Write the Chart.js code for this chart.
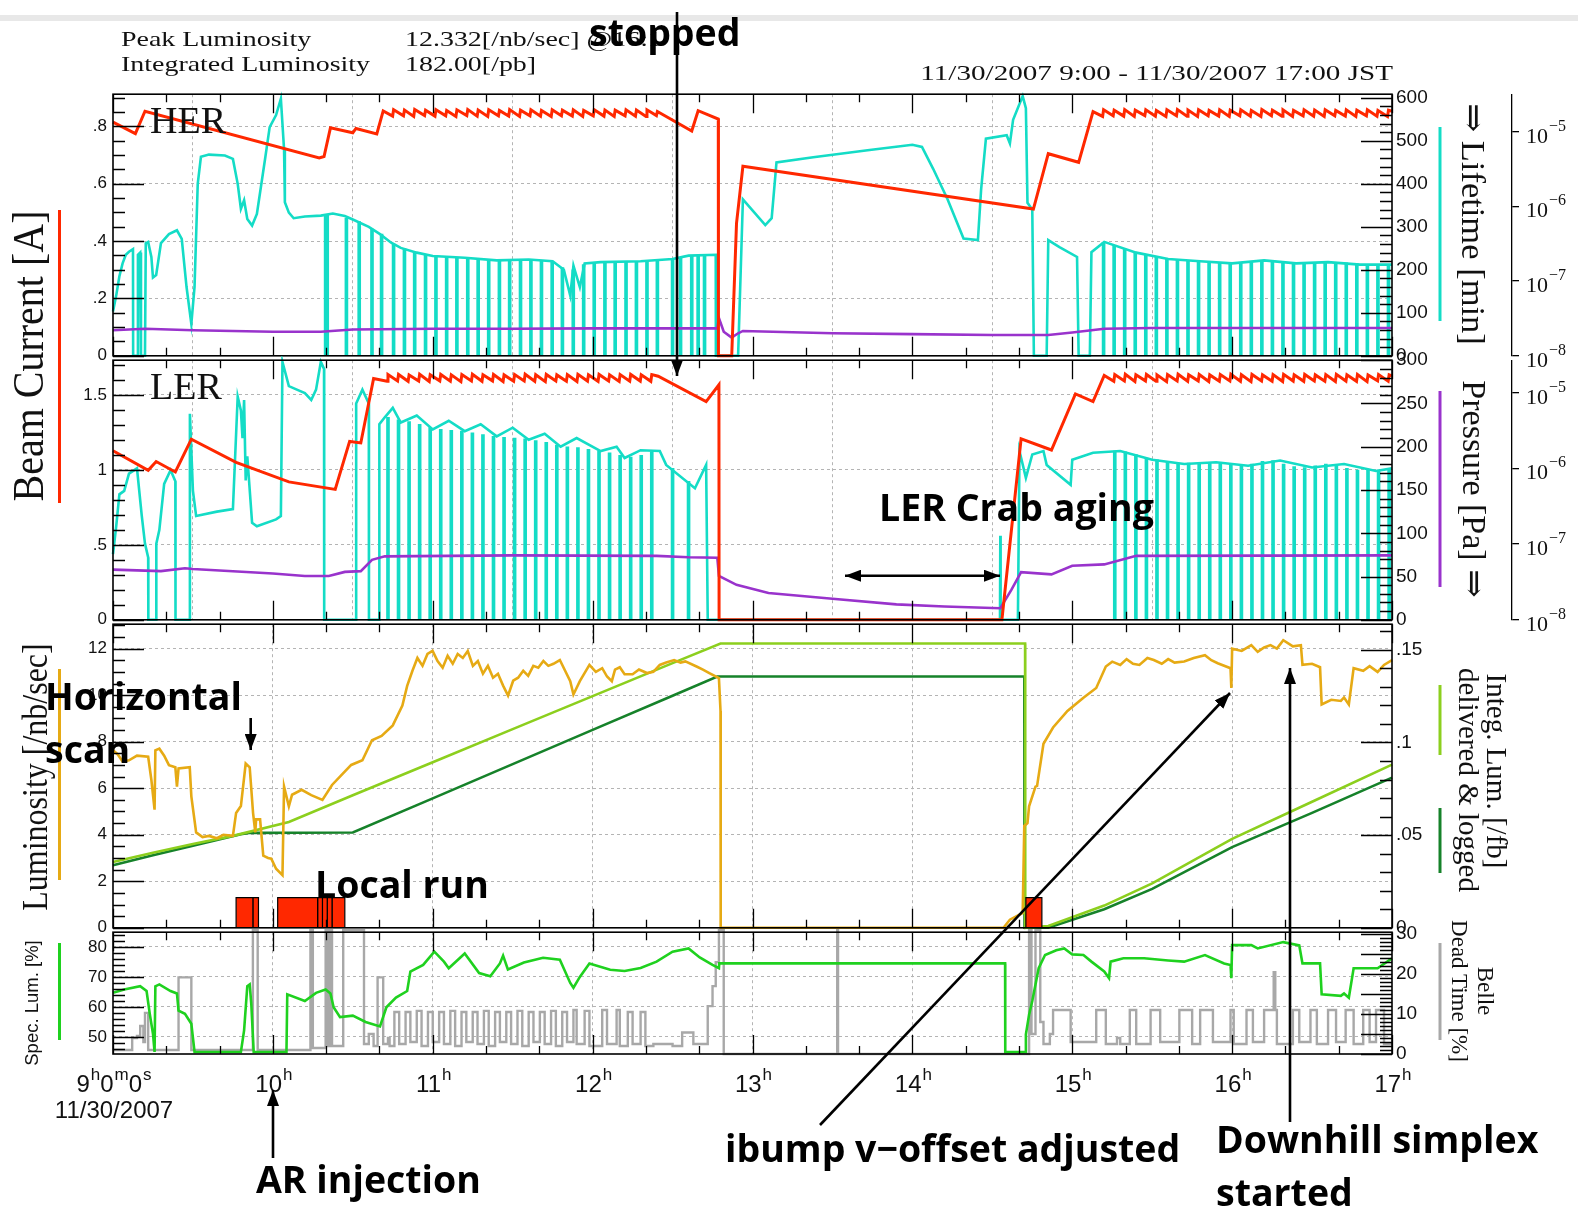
<!DOCTYPE html>
<html>
<head>
<meta charset="utf-8">
<title>KEKB operation summary 11/30/2007</title>
<script src="https://cdn.jsdelivr.net/npm/chart.js@4.4.1/dist/chart.umd.min.js"></script>
<style>
  html, body { margin: 0; padding: 0; background: #fff; }
  body { width: 1578px; height: 1210px; position: relative; overflow: hidden; }
  canvas { position: absolute; left: 0; }
  #notes { position: absolute; left: 0; top: 0; }
</style>
</head>
<body>
<canvas id="cHer" width="1578" height="294" style="top:78px"></canvas>
<canvas id="cLer" width="1578" height="292" style="top:344px"></canvas>
<canvas id="cLum" width="1578" height="336" style="top:608px"></canvas>
<canvas id="cSpec" width="1578" height="204" style="top:916px"></canvas>

<svg id="notes" width="1578" height="1210" xmlns="http://www.w3.org/2000/svg">
  <defs>
    <marker id="head" viewBox="0 0 16 12" refX="16" refY="6" markerWidth="16" markerHeight="12"
            markerUnits="userSpaceOnUse" orient="auto-start-reverse">
      <path d="M0,0 L16,6 L0,12 z" fill="#000"/>
    </marker>
  </defs>
  <rect x="0" y="15" width="1578" height="6" fill="#e8e8e8"/>

  <!-- header -->
  <g font-family="'Liberation Serif','DejaVu Serif',serif" fill="#111" font-size="21.5">
    <text transform="translate(121,46) scale(1.3,1)">Peak Luminosity</text>
    <text transform="translate(121,71) scale(1.3,1)">Integrated Luminosity</text>
    <text transform="translate(405,46) scale(1.3,1)">12.332[/nb/sec] @16:1</text>
    <text transform="translate(405,71) scale(1.3,1)">182.00[/pb]</text>
    <text transform="translate(1393,80) scale(1.355,1)" text-anchor="end">11/30/2007 9:00 - 11/30/2007 17:00 JST</text>
  </g>

  <!-- panel names -->
  <g font-family="'Liberation Serif','DejaVu Serif',serif" fill="#111" font-size="38">
    <text x="150" y="133">HER</text>
    <text x="150" y="399">LER</text>
  </g>

  <!-- axis titles, left -->
  <g font-family="'Liberation Serif','DejaVu Serif',serif" fill="#111" text-anchor="middle" dominant-baseline="central">
    <text font-size="40" transform="translate(28,356) rotate(-90) scale(1,1.1)">Beam Current [A]</text>
    <text font-size="32" transform="translate(35,777) rotate(-90) scale(1,1.1)">Luminosity [/nb/sec]</text>
  </g>
  <text font-family="'Liberation Sans','DejaVu Sans',sans-serif" font-size="18.5" fill="#111" text-anchor="middle"
        dominant-baseline="central" transform="translate(31,1003) rotate(-90)">Spec. Lum. [%]</text>
  <line x1="59.5" y1="210" x2="59.5" y2="503" stroke="#ff2800" stroke-width="3"/>
  <line x1="59.5" y1="669" x2="59.5" y2="880" stroke="#e6aa14" stroke-width="3"/>
  <line x1="59.5" y1="943" x2="59.5" y2="1040" stroke="#1fd11f" stroke-width="3"/>

  <!-- axis titles, right -->
  <g font-family="'Liberation Serif','DejaVu Serif',serif" fill="#111" text-anchor="middle" dominant-baseline="central">
    <text font-size="34.5" transform="translate(1474,224) rotate(90)">⇒ Lifetime [min]</text>
    <text font-size="34" transform="translate(1474,489) rotate(90)">Pressure [Pa] ⇒</text>
    <text font-size="29" transform="translate(1497,771) rotate(90)">Integ. Lum. [/fb]</text>
    <text font-size="29" transform="translate(1469,780) rotate(90)">delivered &amp; logged</text>
    <text font-size="23" transform="translate(1485,991) rotate(90)">Belle</text>
    <text font-size="23" transform="translate(1459,991) rotate(90)">Dead Time [%]</text>
  </g>
  <line x1="1440" y1="127" x2="1440" y2="321" stroke="#14dcc6" stroke-width="3"/>
  <line x1="1440" y1="391" x2="1440" y2="587" stroke="#9933cc" stroke-width="3"/>
  <line x1="1440" y1="685" x2="1440" y2="755" stroke="#8ccf1e" stroke-width="3"/>
  <line x1="1440" y1="808" x2="1440" y2="873" stroke="#16822a" stroke-width="3"/>
  <line x1="1440" y1="943" x2="1440" y2="1040" stroke="#a8a8a8" stroke-width="3"/>

  <!-- operator notes -->
  <g stroke="#000" stroke-width="2.6" fill="none">
    <line x1="677" y1="12" x2="677" y2="376" marker-end="url(#head)"/>
    <line x1="250.7" y1="718" x2="250.7" y2="750" marker-end="url(#head)"/>
    <line x1="845" y1="575.7" x2="1000" y2="575.7" marker-start="url(#head)" marker-end="url(#head)"/>
    <line x1="273" y1="1158" x2="273" y2="1090" marker-end="url(#head)"/>
    <line x1="820" y1="1125" x2="1230" y2="693" marker-end="url(#head)"/>
    <line x1="1290" y1="1122" x2="1290" y2="668" marker-end="url(#head)"/>
  </g>
  <g font-family="'Open Sans','DejaVu Sans',sans-serif" font-weight="700" font-size="37.5" fill="#000">
    <text x="589" y="46">stopped</text>
    <text x="879" y="521">LER Crab aging</text>
    <text x="45" y="710">Horizontal</text>
    <text x="45" y="763">scan</text>
    <text x="315" y="898">Local run</text>
    <text x="256" y="1193">AR injection</text>
    <text x="725" y="1162">ibump v−offset adjusted</text>
    <text x="1216" y="1153">Downhill simplex</text>
    <text x="1216" y="1206">started</text>
  </g>
</svg>

<script>
// ---------------------------------------------------------------------------
// Time axis (hours, JST) and its labels: [number, unit superscript] pieces
// ---------------------------------------------------------------------------
const hourTicks = [9, 10, 11, 12, 13, 14, 15, 16, 17];
const firstHourLabel = [['9', 'h'], ['0', 'm'], ['0', 's']];
const hourUnit = 'h';
const dateLabel = '11/30/2007';

// ---------------------------------------------------------------------------
// HER ring: beam current [A], lifetime [min], pressure [Pa]
// ---------------------------------------------------------------------------
const herCurrent = [
  [9.00,0.815],[9.14,0.775],[9.20,0.853],[10.29,0.690],[10.32,0.695],[10.36,0.795],[10.50,0.778],
  [10.52,0.793],[10.65,0.774],[10.69,0.854],
  [10.749,0.836],[10.755,0.858],[10.817,0.837],[10.823,0.857],[10.881,0.835],[10.887,0.859],
  [10.949,0.838],[10.955,0.857],[11.014,0.836],[11.02,0.858],[11.081,0.837],[11.087,0.856],
  [11.145,0.835],[11.151,0.858],[11.213,0.838],[11.219,0.859],[11.278,0.836],[11.284,0.857],
  [11.344,0.835],[11.35,0.858],[11.411,0.837],[11.417,0.856],[11.475,0.836],[11.481,0.859],
  [11.543,0.835],[11.549,0.857],[11.608,0.837],[11.614,0.858],[11.674,0.836],[11.68,0.856],
  [11.741,0.835],[11.747,0.858],[11.805,0.837],[11.811,0.857],[11.873,0.836],[11.879,0.858],
  [11.938,0.835],[11.944,0.856],[12.004,0.837],[12.01,0.858],[12.071,0.836],[12.077,0.857],
  [12.135,0.835],[12.141,0.857],[12.203,0.837],[12.209,0.858],[12.268,0.836],[12.274,0.857],
  [12.334,0.835],[12.34,0.858],[12.399,0.838],[12.405,0.852],
  [12.62,0.784],[12.66,0.855],[12.786,0.826],[12.787,0.0],[12.87,0.0],[12.90,0.462],[12.94,0.661],
  [14.757,0.512],[14.85,0.705],[15.04,0.675],[15.13,0.852],
  [15.19,0.835],[15.196,0.858],[15.256,0.837],[15.262,0.857],[15.322,0.836],[15.328,0.859],
  [15.388,0.835],[15.394,0.857],[15.454,0.838],[15.46,0.858],[15.52,0.836],[15.526,0.856],
  [15.586,0.835],[15.592,0.858],[15.652,0.837],[15.658,0.859],[15.718,0.836],[15.724,0.857],
  [15.784,0.835],[15.79,0.858],[15.85,0.837],[15.856,0.856],[15.916,0.836],[15.922,0.858],
  [15.982,0.835],[15.988,0.857],[16.048,0.837],[16.054,0.858],[16.114,0.836],[16.12,0.856],
  [16.18,0.835],[16.186,0.859],[16.246,0.837],[16.252,0.857],[16.312,0.836],[16.318,0.858],
  [16.378,0.835],[16.384,0.856],[16.444,0.837],[16.45,0.858],[16.51,0.836],[16.516,0.857],
  [16.576,0.835],[16.582,0.858],[16.642,0.837],[16.648,0.856],[16.708,0.836],[16.714,0.858],
  [16.774,0.835],[16.78,0.857],[16.84,0.837],[16.846,0.858],[16.906,0.836],[16.912,0.856],
  [16.972,0.835],[16.978,0.857],[17.00,0.853]
];

const herLifetime = [
  [9.00,103],[9.02,140],[9.04,185],[9.06,215],[9.08,235],[9.10,242],[9.125,248],[9.126,0],[9.155,0],
  [9.156,235],[9.17,240],[9.175,0],[9.20,0],[9.205,262],[9.22,265],[9.24,230],[9.25,182],[9.27,188],
  [9.30,262],[9.35,283],[9.40,292],[9.43,272],[9.46,160],[9.49,74],[9.51,160],[9.53,400],[9.55,463],
  [9.60,468],[9.70,466],[9.75,458],[9.78,400],[9.80,342],[9.82,362],[9.84,318],[9.87,303],[9.90,330],
  [9.95,455],[9.98,532],[10.02,560],[10.05,598],[10.07,480],[10.075,357],[10.10,333],[10.13,320],
  [10.20,324],[10.30,326],[10.375,331],[10.45,325],[10.50,317],[10.60,300],[10.67,283],[10.74,263],
  [10.80,251],[10.90,240],[11.00,232],[11.20,228],[11.40,222],[11.60,224],[11.75,220],[11.82,200],
  [11.86,140],[11.88,210],[11.92,160],[11.95,215],[12.05,218],[12.30,220],[12.50,225],[12.60,233],
  [12.77,235],[12.771,0],[12.91,0],[12.94,364],[13.08,304],[13.12,320],[13.15,450],[13.38,462],
  [13.72,478],[14.00,491],[14.06,486],[14.13,435],[14.22,364],[14.32,273],[14.41,269],[14.43,387],
  [14.46,505],[14.59,513],[14.61,494],[14.63,549],[14.69,604],[14.71,576],[14.72,356],[14.75,340],
  [14.76,0],[14.84,0],[14.85,269],[14.92,253],[15.03,230],[15.04,0],[15.11,0],[15.12,241],[15.20,265],
  [15.40,240],[15.60,225],[15.80,220],[16.00,215],[16.20,222],[16.40,215],[16.60,218],[16.80,212],
  [17.00,212]
];

// the lifetime readout falls to zero at each injection: [time, reading before the drop]
const herLifetimeDrops = [
  [10.33,326],[10.335,326],[10.34,327],[10.46,320],[10.54,312],[10.62,295],[10.68,283],
  [10.755,260],[10.823,249],[10.887,242],[10.955,236],[11.02,232],[11.087,231],[11.151,229],
  [11.219,228],[11.284,226],[11.35,224],[11.417,222],[11.481,223],[11.549,224],[11.614,224],
  [11.68,222],[11.747,220],[11.811,205],[11.879,200],[11.944,212],[12.01,217],[12.077,218],
  [12.141,219],[12.209,219],[12.274,220],[12.34,221],[12.405,223],[12.50,225],[12.55,228],
  [12.62,233],[12.66,234],[12.70,235],
  [15.196,264],[15.262,257],[15.328,248],[15.394,241],[15.46,236],[15.526,231],[15.592,226],
  [15.658,223],[15.724,221],[15.79,220],[15.856,218],[15.922,217],[15.988,215],[16.054,216],
  [16.12,218],[16.186,221],[16.252,220],[16.318,217],[16.384,215],[16.45,216],[16.516,217],
  [16.582,218],[16.648,217],[16.714,216],[16.78,214],[16.846,212],[16.912,212],[16.978,212]
];

const herPressure = [
  [9.00,2.2e-8],[9.20,2.3e-8],[9.50,2.2e-8],[10.00,2.1e-8],[10.30,2.1e-8],[10.50,2.25e-8],[11.00,2.3e-8],
  [11.50,2.3e-8],[12.00,2.33e-8],[12.78,2.33e-8],[12.79,3.2e-8],[12.82,2.1e-8],[12.87,1.75e-8],
  [12.91,2.0e-8],[12.94,2.15e-8],[13.50,2.0e-8],[14.00,1.95e-8],[14.50,1.9e-8],[14.85,1.9e-8],
  [15.00,2.05e-8],[15.20,2.3e-8],[15.50,2.35e-8],[16.00,2.35e-8],[17.00,2.35e-8]
];

// ---------------------------------------------------------------------------
// LER ring
// ---------------------------------------------------------------------------
const lerCurrent = [
  [9.00,1.128],[9.22,0.997],[9.27,1.056],[9.39,0.986],[9.49,1.205],[9.77,1.050],[10.10,0.920],
  [10.39,0.870],[10.48,1.190],[10.55,1.180],[10.63,1.610],
  [10.714,1.592],[10.72,1.636],[10.78,1.594],[10.786,1.637],[10.846,1.591],[10.852,1.634],
  [10.912,1.593],[10.918,1.638],[10.978,1.590],[10.984,1.635],[11.044,1.594],[11.05,1.637],
  [11.11,1.592],[11.116,1.634],[11.176,1.589],[11.182,1.636],[11.242,1.593],[11.248,1.638],
  [11.308,1.591],[11.314,1.635],[11.374,1.594],[11.38,1.637],[11.44,1.590],[11.446,1.634],
  [11.506,1.592],[11.512,1.636],[11.572,1.593],[11.578,1.638],[11.638,1.591],[11.644,1.635],
  [11.704,1.589],[11.71,1.637],[11.77,1.594],[11.776,1.634],[11.836,1.592],[11.842,1.636],
  [11.902,1.590],[11.908,1.638],[11.968,1.593],[11.974,1.635],[12.034,1.591],[12.04,1.637],
  [12.10,1.594],[12.106,1.634],[12.166,1.590],[12.172,1.636],[12.232,1.592],[12.238,1.637],
  [12.298,1.593],[12.304,1.635],[12.364,1.591],[12.37,1.636],
  [12.41,1.625],[12.71,1.456],[12.79,1.568],[12.791,0],[14.56,0],
  [14.68,1.207],[14.87,1.133],[15.02,1.507],[15.13,1.456],[15.20,1.630],
  [15.26,1.591],[15.266,1.636],[15.326,1.593],[15.332,1.638],[15.392,1.590],[15.398,1.635],
  [15.458,1.594],[15.464,1.637],[15.524,1.592],[15.53,1.634],[15.59,1.589],[15.596,1.636],
  [15.656,1.593],[15.662,1.638],[15.722,1.591],[15.728,1.635],[15.788,1.594],[15.794,1.637],
  [15.854,1.590],[15.86,1.634],[15.92,1.592],[15.926,1.636],[15.986,1.593],[15.992,1.638],
  [16.052,1.591],[16.058,1.635],[16.118,1.589],[16.124,1.637],[16.184,1.594],[16.19,1.634],
  [16.25,1.592],[16.256,1.636],[16.316,1.590],[16.322,1.638],[16.382,1.593],[16.388,1.635],
  [16.448,1.591],[16.454,1.637],[16.514,1.594],[16.52,1.634],[16.58,1.592],[16.586,1.636],
  [16.646,1.590],[16.652,1.638],[16.712,1.593],[16.718,1.635],[16.778,1.591],[16.784,1.637],
  [16.844,1.589],[16.85,1.634],[16.91,1.594],[16.916,1.636],[16.976,1.592],[16.982,1.635],
  [17.00,1.628]
];

const lerLifetime = [
  [9.00,76],[9.02,108],[9.04,145],[9.07,149],[9.10,169],[9.15,175],[9.18,120],[9.20,88],[9.22,72],
  [9.221,0],[9.27,0],[9.271,88],[9.29,104],[9.32,157],[9.36,173],[9.39,160],[9.391,0],[9.48,0],
  [9.481,238],[9.50,149],[9.52,120],[9.65,125],[9.75,128],[9.78,258],[9.80,242],[9.81,210],[9.82,254],
  [9.83,161],[9.84,189],[9.87,112],[9.90,108],[10.02,116],[10.05,120],[10.06,298],[10.10,270],
  [10.15,266],[10.20,262],[10.24,254],[10.27,266],[10.30,298],[10.32,290],[10.321,0],[10.52,0],
  [10.521,250],[10.56,266],[10.60,250],[10.601,0],[10.665,0],[10.666,226],[10.70,234],[10.75,245],
  [10.80,228],[10.90,236],[11.00,220],[11.10,230],[11.20,218],[11.30,226],[11.40,212],[11.50,222],
  [11.60,208],[11.70,215],[11.80,200],[11.90,210],[12.05,195],[12.15,200],[12.20,187],[12.30,196],
  [12.42,195],[12.46,179],[12.64,152],[12.71,179],[12.72,0],[14.548,0],[14.55,97],[14.552,0],[14.66,0],
  [14.67,195],[14.71,164],[14.75,191],[14.82,195],[14.84,179],[14.99,156],[15.00,185],[15.13,193],
  [15.30,195],[15.50,185],[15.70,180],[15.90,182],[16.10,178],[16.30,184],[16.50,176],[16.70,180],
  [16.90,172],[17.00,175]
];

const lerLifetimeDrops = [
  [10.72,234],[10.786,231],[10.852,229],[10.918,226],[10.984,222],[11.05,220],[11.116,219],
  [11.182,218],[11.248,216],[11.314,214],[11.38,212],[11.446,211],[11.512,210],[11.578,209],
  [11.644,207],[11.71,205],[11.776,202],[11.842,200],[11.908,199],[11.974,197],[12.04,195],
  [12.106,193],[12.172,190],[12.238,188],[12.304,190],[12.37,194],[12.50,175],[12.60,160],
  [15.266,195],[15.332,194],[15.398,191],[15.464,187],[15.53,185],[15.596,183],[15.662,180],
  [15.728,181],[15.794,182],[15.86,182],[15.926,181],[15.992,179],[16.058,178],[16.124,180],
  [16.19,183],[16.256,184],[16.322,180],[16.388,177],[16.454,176],[16.52,178],[16.586,180],
  [16.652,178],[16.718,175],[16.784,173],[16.85,174],[16.916,173],[16.982,175]
];

const lerPressure = [
  [9.00,4.6e-8],[9.30,4.4e-8],[9.45,4.8e-8],[9.50,4.7e-8],[10.00,4.1e-8],[10.20,3.8e-8],[10.35,3.8e-8],
  [10.45,4.3e-8],[10.55,4.4e-8],[10.62,6.2e-8],[10.70,6.9e-8],[11.50,7.1e-8],[12.40,7.0e-8],
  [12.60,6.7e-8],[12.78,6.6e-8],[12.79,3.8e-8],[12.90,2.9e-8],[13.10,2.26e-8],[13.50,1.9e-8],
  [13.90,1.6e-8],[14.20,1.5e-8],[14.55,1.42e-8],[14.62,2.5e-8],[14.68,4.27e-8],[14.87,3.98e-8],
  [15.00,5.17e-8],[15.20,5.4e-8],[15.40,7.0e-8],[17.00,7.1e-8]
];

const pressureTicks = [1e-8, 1e-7, 1e-6, 1e-5];
const pressureLabels = [['10', '−8'], ['10', '−7'], ['10', '−6'], ['10', '−5']];

// ---------------------------------------------------------------------------
// Luminosity [/nb/sec], integrated luminosity [/fb], Belle local runs
// ---------------------------------------------------------------------------
const luminosity = [
  [9.00,7.63],[9.03,7.45],[9.06,7.15],[9.10,7.20],[9.15,7.40],[9.22,7.35],[9.24,6.36],[9.26,5.08],
  [9.265,7.63],[9.29,7.70],[9.32,7.40],[9.35,6.99],[9.39,6.90],[9.40,6.07],[9.41,6.85],[9.48,6.90],
  [9.49,5.65],[9.52,4.10],[9.56,3.90],[9.60,3.95],[9.65,3.85],[9.69,4.00],[9.75,3.95],[9.77,4.94],
  [9.80,5.23],[9.83,7.06],[9.855,6.90],[9.876,4.94],[9.89,4.10],[9.895,4.66],[9.92,4.66],[9.94,3.10],
  [9.97,3.00],[9.99,2.97],[10.02,2.54],[10.06,2.26],[10.07,6.07],[10.10,5.22],[10.12,5.72],
  [10.18,5.93],[10.24,5.70],[10.31,5.50],[10.37,6.14],[10.43,6.57],[10.49,7.00],[10.56,7.20],
  [10.62,8.06],[10.68,8.25],[10.75,8.70],[10.81,9.55],[10.84,10.40],[10.873,11.05],[10.904,11.60],
  [10.936,11.26],[10.967,11.77],[10.999,11.90],[11.030,11.47],[11.062,11.18],[11.093,11.69],
  [11.125,11.35],[11.156,11.77],[11.188,11.60],[11.219,11.90],[11.251,11.26],[11.282,11.47],
  [11.314,10.92],[11.345,11.26],[11.377,10.75],[11.408,10.92],[11.440,10.41],[11.471,9.98],
  [11.503,10.62],[11.534,10.75],[11.566,11.05],[11.597,10.83],[11.629,11.26],[11.660,11.18],
  [11.692,11.47],[11.723,11.26],[11.755,11.35],[11.795,11.51],[11.86,10.60],[11.88,10.03],
  [11.92,10.60],[11.98,11.30],[12.02,11.00],[12.06,11.16],[12.09,10.80],[12.12,10.60],[12.14,11.10],
  [12.17,11.20],[12.20,10.90],[12.25,10.90],[12.29,11.10],[12.34,10.95],[12.38,11.00],[12.42,11.30],
  [12.46,11.40],[12.51,11.51],[12.55,11.40],[12.58,11.45],[12.65,11.23],[12.69,11.10],[12.73,10.95],
  [12.79,10.73],[12.80,9.32],[12.801,0],[14.57,0],[14.61,0.35],[14.69,0.64],[14.70,4.38],[14.72,4.50],
  [14.73,5.22],[14.77,6.07],[14.78,6.10],[14.82,7.91],[14.88,8.61],[14.97,9.32],[15.07,9.89],
  [15.15,10.31],[15.21,11.23],[15.25,11.44],[15.30,11.30],[15.34,11.55],[15.38,11.35],[15.42,11.30],
  [15.47,11.60],[15.51,11.51],[15.56,11.35],[15.60,11.55],[15.64,11.40],[15.70,11.45],[15.76,11.60],
  [15.83,11.72],[15.87,11.50],[15.91,11.37],[15.99,11.16],[15.995,10.31],[16.00,12.00],[16.06,11.90],
  [16.12,12.15],[16.16,11.86],[16.20,12.05],[16.24,12.15],[16.28,12.00],[16.32,12.36],[16.38,12.10],
  [16.43,12.15],[16.44,11.30],[16.50,11.35],[16.55,11.20],[16.56,9.60],[16.62,9.80],[16.68,9.75],
  [16.70,9.90],[16.73,9.60],[16.76,11.16],[16.82,11.05],[16.86,11.25],[16.91,11.00],[16.95,11.30],
  [17.00,11.51]
];

const intLumDelivered = [
  [9.00,0.0355],[9.25,0.0405],[9.50,0.0452],[9.75,0.0496],[10.10,0.0571],[10.50,0.0715],[11.00,0.0893],
  [11.50,0.1072],[12.00,0.1250],[12.50,0.1428],[12.80,0.1534],[14.705,0.1534],[14.706,0],[14.85,0.001],
  [15.20,0.012],[15.50,0.024],[16.00,0.048],[16.50,0.068],[17.00,0.088]
];

const intLumLogged = [
  [9.00,0.0337],[9.25,0.0392],[9.50,0.0443],[9.80,0.0505],[9.85,0.0512],[10.50,0.0514],[11.00,0.0698],
  [11.50,0.0883],[12.00,0.1068],[12.50,0.1252],[12.78,0.1356],[14.70,0.1356],[14.701,0.057],
  [14.702,0],[14.85,0],[15.20,0.010],[15.50,0.021],[16.00,0.0435],[16.50,0.062],[17.00,0.081]
];

// Belle local runs: [start, end] in hours, drawn up to runLevel on the luminosity scale
const localRuns = [
  [9.77,9.875],[9.875,9.91],[10.03,10.28],[10.28,10.31],[10.31,10.34],[10.34,10.37],[10.37,10.45],
  [14.71,14.81]
];
const runLevel = 1.3;

// ---------------------------------------------------------------------------
// Specific luminosity [%] and Belle dead time [%]
// ---------------------------------------------------------------------------
const specLum = [
  [9.00,64.7],[9.07,65.8],[9.17,66.9],[9.21,65.3],[9.23,57.7],[9.25,51.1],[9.26,45.0],[9.265,66.9],
  [9.29,67.5],[9.36,65.3],[9.40,64.5],[9.41,58.8],[9.45,57.7],[9.49,54.4],[9.51,45.0],[9.80,45.0],
  [9.82,52.2],[9.84,66.9],[9.855,67.5],[9.865,61.0],[9.88,45.0],[10.085,45.0],[10.09,64.2],[10.20,62.0],
  [10.27,64.7],[10.33,65.8],[10.36,64.5],[10.38,59.9],[10.42,56.6],[10.50,57.1],[10.58,55.0],
  [10.67,53.5],[10.71,59.9],[10.77,63.1],[10.84,65.3],[10.86,71.8],[10.94,74.0],[11.01,78.4],
  [11.07,75.1],[11.10,72.9],[11.20,77.8],[11.29,71.3],[11.36,70.2],[11.42,74.5],[11.44,77.1],
  [11.47,72.5],[11.57,74.8],[11.69,76.4],[11.795,75.7],[11.86,68.0],[11.88,66.4],[11.92,70.0],
  [11.98,74.5],[12.11,72.4],[12.20,72.0],[12.30,73.0],[12.40,75.1],[12.50,78.4],[12.60,79.5],
  [12.67,76.5],[12.75,74.0],[12.79,72.9],[12.792,74.5],[14.58,74.5],[14.581,45.0],[14.705,45.0],
  [14.71,50.9],[14.73,57.4],[14.75,62.0],[14.79,72.9],[14.83,77.3],[14.90,78.9],[14.95,79.5],
  [15.00,77.5],[15.07,77.3],[15.12,75.1],[15.20,71.8],[15.23,69.6],[15.24,75.1],[15.32,76.2],
  [15.45,76.2],[15.60,75.5],[15.70,75.1],[15.83,77.3],[15.95,74.5],[15.99,74.0],[15.995,69.6],
  [16.00,80.6],[16.12,80.6],[16.16,79.5],[16.32,81.6],[16.42,80.5],[16.44,74.5],[16.55,74.5],
  [16.56,64.2],[16.68,63.7],[16.70,64.5],[16.73,63.1],[16.76,72.9],[16.91,72.9],[17.00,76.2]
];

// step data: each entry is the value from that time on
const deadTime = [
  [9.00,1],[9.12,4],[9.15,4.5],[9.17,7],[9.19,3],[9.20,10.3],[9.22,1],[9.41,19.2],[9.49,1],[9.875,31],
  [9.905,1],[10.10,1],[10.235,31],[10.25,1.5],[10.33,31],[10.345,2],[10.355,31],[10.37,2],[10.44,31],
  [10.57,2.5],[10.60,5],[10.63,2],[10.655,19.2],[10.69,2.5],[10.72,4],[10.73,2],
  [10.76,10.5],[10.79,2.5],[10.83,10.5],[10.86,3],[10.90,10.8],[10.93,2],[10.97,10.5],[11.00,3],
  [11.04,10.5],[11.07,2.5],[11.11,10.8],[11.14,2],[11.18,10.5],[11.21,3],[11.25,10.5],[11.28,2.5],
  [11.32,10.8],[11.35,2],[11.39,10.5],[11.42,3],[11.46,10.5],[11.49,2.5],[11.53,10.8],[11.56,2],
  [11.60,10.5],[11.63,3],[11.67,10.5],[11.70,2.5],[11.74,10.8],[11.77,2],[11.81,10.5],[11.84,3],
  [11.88,11],[11.90,2.5],[11.95,10.8],[11.98,2],[12.06,11],[12.09,2.5],[12.15,11],[12.17,2],
  [12.22,10.5],[12.25,2.5],[12.30,10.5],[12.33,2],[12.38,2.5],[12.50,2],[12.56,5.4],[12.63,2.5],
  [12.72,12],[12.75,17],[12.77,23],[12.79,31],[12.82,0],[13.53,31],[13.535,0],[14.70,0],[14.73,31],
  [14.745,5],[14.77,31],[14.80,8],[14.82,2.5],[14.86,5],[14.88,11],[14.99,3],[15.15,11],[15.21,2.5],
  [15.28,4],[15.30,2.5],[15.36,11],[15.40,2.5],[15.49,11],[15.55,3],[15.67,11],[15.75,2.5],[15.80,11],
  [15.88,3],[15.99,11],[16.01,2.5],[16.09,11],[16.13,3],[16.20,11],[16.26,20.5],[16.27,11],[16.28,2.5],
  [16.38,11],[16.42,3],[16.49,11],[16.53,2.5],[16.60,11],[16.65,3],[16.71,11],[16.76,2.5],[16.82,11],
  [16.86,3],[16.90,11],[16.95,2.5],[17.00,2.5]
];

// ---------------------------------------------------------------------------
// Styling
// ---------------------------------------------------------------------------
const SANS = "'Liberation Sans', 'DejaVu Sans', sans-serif";
const SERIF = "'Liberation Serif', 'DejaVu Serif', serif";
const GRID = '#b4b4b4';
const COL = {
  current: '#ff2800', life: '#14dcc6', press: '#9933cc', lum: '#e6aa14',
  delivered: '#8ccf1e', logged: '#16822a', spec: '#1fd11f', dead: '#a8a8a8', run: '#ff2800'
};
const PAD = 14;
const LEFT_W = 113;
const RIGHT_W = 186;

Chart.defaults.color = '#111';
Chart.defaults.font.family = SANS;

const xy = pts => pts.map(([x, y]) => ({ x, y }));
const lineSet = (label, pts, color, axis, extra) => Object.assign({
  type: 'line', label, data: xy(pts), borderColor: color, backgroundColor: color,
  borderWidth: 2.6, pointRadius: 0, tension: 0, fill: false, yAxisID: axis, clip: 4
}, extra || {});
const dropSet = (label, pts, color, axis) => ({
  type: 'bar', label, data: pts.map(([x, top]) => ({ x, y: [0, top] })),
  backgroundColor: color, borderWidth: 0, barThickness: 3, grouped: false, yAxisID: axis
});

function timeAxis(labelSpace) {
  return {
    type: 'linear', position: 'bottom', min: 9, max: 17, offset: false,
    afterBuildTicks: s => { s.ticks = hourTicks.map(v => ({ value: v })); },
    afterFit: s => { s.height = labelSpace; },
    ticks: { display: false },
    grid: {
      drawTicks: false, lineWidth: 1,
      color: c => (c.tick && (c.tick.value === 9 || c.tick.value === 17)) ? 'rgba(0,0,0,0)' : GRID
    },
    border: { display: false, dash: [3, 3] }
  };
}

function leftAxis(min, max, majors, fmt) {
  return {
    type: 'linear', position: 'left', min, max,
    afterFit: s => { s.width = LEFT_W; },
    afterBuildTicks: s => { s.ticks = majors.map(v => ({ value: v })); },
    ticks: { padding: 6, color: '#111', font: { family: SANS, size: 17 }, callback: fmt },
    grid: {
      drawTicks: false, lineWidth: 1,
      color: c => (c.tick && (c.tick.value <= min + 1e-9 || c.tick.value >= max - 1e-9)) ? 'rgba(0,0,0,0)' : GRID
    },
    border: { display: false, dash: [3, 3] }
  };
}

function rightAxis(min, max, majors, fmt, width) {
  return {
    type: 'linear', position: 'right', min, max, weight: 0,
    afterFit: s => { s.width = width; },
    afterBuildTicks: s => { s.ticks = majors.map(v => ({ value: v })); },
    ticks: { padding: 4, color: '#111', font: { family: SANS, size: 19 }, callback: fmt },
    grid: { display: false, drawTicks: false },
    border: { display: false }
  };
}

function pressureAxis(max) {
  return {
    type: 'logarithmic', position: 'right', min: 1e-8, max, weight: 1,
    afterFit: s => { s.width = RIGHT_W - 120; },
    afterBuildTicks: s => { s.ticks = pressureTicks.map(v => ({ value: v })); },
    ticks: { display: false },
    grid: { display: true, drawOnChartArea: false, drawTicks: true, tickLength: 7, color: '#000', lineWidth: 1.3 },
    border: { display: true, color: '#000', width: 1.3 }
  };
}

const trim = v => (Math.abs(v) < 1 && v !== 0 ? String(v).replace(/^0/, '') : String(v));

// frame with inward tick marks on all four sides, plus labels with superscripts
const panelFrame = {
  id: 'panelFrame',
  afterDatasetsDraw(chart, args, o) {
    const { ctx, chartArea: a, scales } = chart;
    ctx.save();
    ctx.strokeStyle = '#000';
    ctx.lineWidth = 1.3;
    ctx.beginPath();
    const xs = scales.x;
    for (let m = 0; m <= 480; m += 20) {
      const px = Math.round(xs.getPixelForValue(9 + m / 60)) + 0.5;
      const len = m % 60 === 0 ? 19 : 8;
      ctx.moveTo(px, a.top); ctx.lineTo(px, a.top + len);
      ctx.moveTo(px, a.bottom); ctx.lineTo(px, a.bottom - len);
    }
    const side = (spec, x0, dir) => {
      if (!spec) return;
      const s = scales[spec.id];
      const i0 = Math.ceil(s.min / spec.minor - 1e-6);
      const i1 = Math.floor(s.max / spec.minor + 1e-6);
      for (let i = i0; i <= i1; i++) {
        const v = i * spec.minor;
        const major = Math.abs(v / spec.major - Math.round(v / spec.major)) < 1e-6;
        const py = Math.round(s.getPixelForValue(v)) + 0.5;
        ctx.moveTo(x0, py); ctx.lineTo(x0 + dir * (major ? 31 : 12), py);
      }
    };
    side(o.left, a.left, 1);
    side(o.right, a.right, -1);
    ctx.stroke();
    ctx.lineWidth = 1.6;
    ctx.strokeRect(a.left, a.top, a.right - a.left, a.bottom - a.top);
    ctx.restore();
  },
  afterDraw(chart, args, o) {
    const { ctx, chartArea: a, scales } = chart;
    ctx.save();
    ctx.fillStyle = '#111';
    ctx.textBaseline = 'alphabetic';
    if (o.pressure) {
      const s = scales[o.pressure];
      pressureTicks.forEach((v, i) => {
        const py = s.getPixelForValue(v);
        const [base, exp] = pressureLabels[i];
        let x = s.left + 14;
        ctx.font = `22px ${SERIF}`;
        ctx.fillText(base, x, py + 11);
        x += ctx.measureText(base).width + 1;
        ctx.font = `16px ${SERIF}`;
        ctx.fillText(exp, x, py - 1);
      });
    }
    if (o.timeLabels) {
      const big = `24px ${SANS}`, small = `17px ${SANS}`;
      const y = a.bottom + 38;
      hourTicks.forEach(h => {
        const parts = h === 9 ? firstHourLabel : [[String(h), hourUnit]];
        let w = 0;
        parts.forEach(([n, u]) => {
          ctx.font = big; w += ctx.measureText(n).width;
          ctx.font = small; w += ctx.measureText(u).width + 1;
        });
        let x = scales.x.getPixelForValue(h) - w / 2 + 1;
        parts.forEach(([n, u]) => {
          ctx.font = big; ctx.fillText(n, x, y); x += ctx.measureText(n).width;
          ctx.font = small; ctx.fillText(u, x + 1, y - 12); x += ctx.measureText(u).width + 1;
        });
      });
      ctx.font = big;
      ctx.textAlign = 'center';
      ctx.fillText(dateLabel, scales.x.getPixelForValue(9) + 1, a.bottom + 64);
    }
    ctx.restore();
  }
};

function panel(id, datasets, scales, frame, padBottom) {
  return new Chart(document.getElementById(id), {
    type: 'line',
    data: { datasets },
    options: {
      responsive: false, animation: false, devicePixelRatio: 1, events: [],
      layout: { padding: { top: PAD, bottom: padBottom, left: 0, right: 0 } },
      plugins: { legend: { display: false }, tooltip: { enabled: false }, panelFrame: frame },
      scales
    },
    plugins: [panelFrame]
  });
}

// HER panel
panel('cHer', [
  lineSet('HER current', herCurrent, COL.current, 'yI', { borderWidth: 3 }),
  lineSet('HER pressure', herPressure, COL.press, 'yP'),
  lineSet('HER lifetime', herLifetime, COL.life, 'yT'),
  dropSet('HER lifetime at injection', herLifetimeDrops, COL.life, 'yT')
], {
  x: timeAxis(0),
  yI: leftAxis(0, 0.9125, [0, 0.2, 0.4, 0.6, 0.8], trim),
  yT: rightAxis(0, 608.5, [0, 100, 200, 300, 400, 500, 600], v => String(v), 120),
  yP: pressureAxis(3.16e-5)
}, { left: { id: 'yI', major: 0.2, minor: 0.05 }, right: { id: 'yT', major: 100, minor: 20 }, pressure: 'yP' }, PAD);

// LER panel
panel('cLer', [
  lineSet('LER current', lerCurrent, COL.current, 'yI', { borderWidth: 3 }),
  lineSet('LER pressure', lerPressure, COL.press, 'yP'),
  lineSet('LER lifetime', lerLifetime, COL.life, 'yT'),
  dropSet('LER lifetime at injection', lerLifetimeDrops, COL.life, 'yT')
], {
  x: timeAxis(0),
  yI: leftAxis(0, 1.732, [0, 0.5, 1, 1.5], trim),
  yT: rightAxis(0, 300, [0, 50, 100, 150, 200, 250, 300], v => String(v), 120),
  yP: pressureAxis(2.7e-5)
}, { left: { id: 'yI', major: 0.5, minor: 0.1 }, right: { id: 'yT', major: 50, minor: 10 }, pressure: 'yP' }, PAD);

// Luminosity panel
const runSets = localRuns.map(([a, b], i) => lineSet('local run ' + (i + 1),
  [[a, 0], [a, runLevel], [b, runLevel], [b, 0]], '#000', 'yL',
  { backgroundColor: COL.run, borderWidth: 1.2, fill: 'origin' }));
panel('cLum', [
  ...runSets,
  lineSet('Luminosity', luminosity, COL.lum, 'yL'),
  lineSet('Integrated, delivered', intLumDelivered, COL.delivered, 'yS'),
  lineSet('Integrated, logged', intLumLogged, COL.logged, 'yS')
], {
  x: timeAxis(0),
  yL: leftAxis(0, 13.05, [0, 2, 4, 6, 8, 10, 12], v => String(v)),
  yS: rightAxis(0, 0.1638, [0, 0.05, 0.1, 0.15], trim, RIGHT_W)
}, { left: { id: 'yL', major: 2, minor: 0.5 }, right: { id: 'yS', major: 0.05, minor: 0.01 } }, PAD);

// Specific luminosity / dead time panel
panel('cSpec', [
  lineSet('Specific luminosity', specLum, COL.spec, 'yR'),
  lineSet('Belle dead time', deadTime, COL.dead, 'yD', { stepped: true, borderWidth: 2.4 })
], {
  x: timeAxis(66),
  yR: leftAxis(44.33, 84.9, [50, 60, 70, 80], v => String(v)),
  yD: rightAxis(0, 30.5, [0, 5, 10, 15, 20, 25, 30], v => String(v), RIGHT_W)
}, { left: { id: 'yR', major: 10, minor: 2 }, right: { id: 'yD', major: 5, minor: 1 }, timeLabels: true }, 0);
</script>
</body>
</html>
